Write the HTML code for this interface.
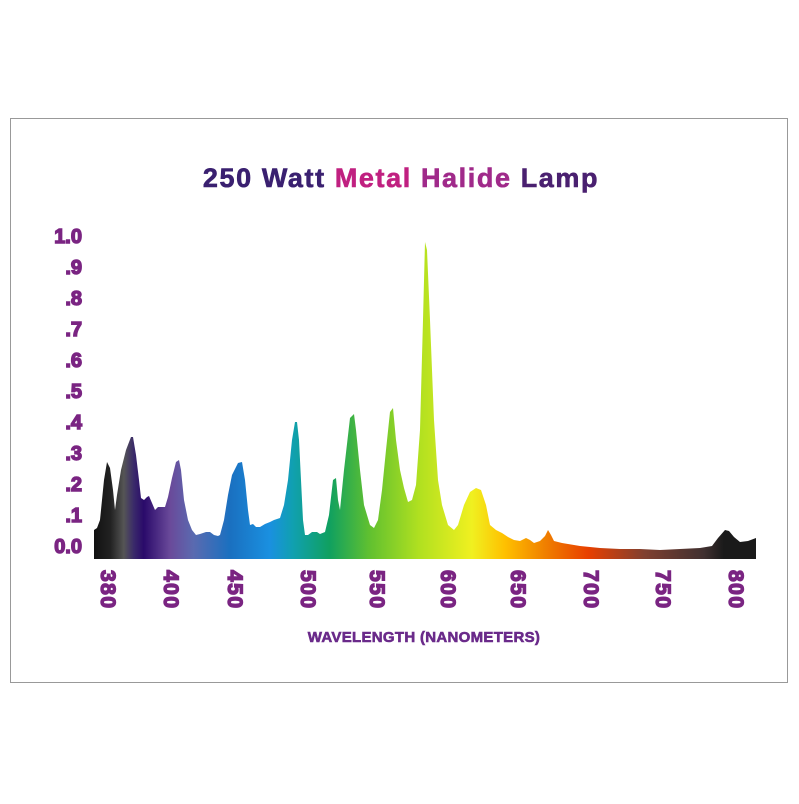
<!DOCTYPE html>
<html><head><style>
html,body{margin:0;padding:0;background:#fff;}
body{width:799px;height:799px;position:relative;overflow:hidden;font-family:"Liberation Sans",sans-serif;}
</style></head><body>
<svg width="799" height="799" viewBox="0 0 799 799" xmlns="http://www.w3.org/2000/svg">
<defs>
<linearGradient id="g" x1="94" y1="0" x2="757" y2="0" gradientUnits="userSpaceOnUse">
<stop offset="0" stop-color="#111"/>
<stop offset="0.025" stop-color="#222"/>
<stop offset="0.045" stop-color="#555"/>
<stop offset="0.06" stop-color="#3a2a6a"/>
<stop offset="0.075" stop-color="#2a0a6a"/>
<stop offset="0.115" stop-color="#6a4a9a"/>
<stop offset="0.15" stop-color="#5a6ab0"/>
<stop offset="0.205" stop-color="#1a70c0"/>
<stop offset="0.265" stop-color="#1a90e0"/>
<stop offset="0.30" stop-color="#10a0b0"/>
<stop offset="0.355" stop-color="#10a060"/>
<stop offset="0.415" stop-color="#60c030"/>
<stop offset="0.49" stop-color="#b0e020"/>
<stop offset="0.57" stop-color="#f0f020"/>
<stop offset="0.62" stop-color="#ffc000"/>
<stop offset="0.68" stop-color="#f08000"/>
<stop offset="0.745" stop-color="#e84000"/>
<stop offset="0.83" stop-color="#804030"/>
<stop offset="0.92" stop-color="#403030"/>
<stop offset="0.95" stop-color="#1a1a1a"/>
<stop offset="1" stop-color="#1a1a1a"/>
</linearGradient>
</defs>
<rect x="10.5" y="118.5" width="777" height="564" fill="#fff" stroke="#999" stroke-width="1"/>
<text x="401" y="187" text-anchor="middle" font-size="27" font-weight="bold" letter-spacing="1.6" stroke-width="0.6"><tspan fill="#3a2070" stroke="#3a2070">250 Watt </tspan><tspan fill="#c02080" stroke="#c02080">Metal </tspan><tspan fill="#a02a8a" stroke="#a02a8a">Halide </tspan><tspan fill="#4a2070" stroke="#4a2070">Lamp</tspan></text>
<path fill="url(#g)" d="M94,559 L94,530 L97,528 L100,520 L104,480 L107,462 L110,468 L113,490 L115,510 L117,495 L121,470 L126,450 L131,437 L133,437 L136,455 L139,480 L141,498 L144,500 L147,497 L149,496 L152,503 L155,510 L158,507 L165,507 L168,497 L172,478 L176,462 L179,460 L181,470 L184,500 L188,520 L192,530 L196,535 L200,534 L206,532 L210,532 L214,535 L218,536 L220,535 L224,520 L228,495 L232,475 L238,463 L242,462 L245,480 L248,510 L250,525 L253,524 L256,527 L260,527 L265,524 L270,522 L274,520 L280,518 L284,505 L288,480 L292,440 L295,422 L297,422 L299,440 L301,480 L303,520 L305,535 L308,535 L312,532 L317,532 L320,534 L325,532 L329,515 L333,480 L336,478 L338,500 L340,510 L344,470 L350,418 L354,414 L356,430 L360,470 L364,505 L370,525 L374,528 L378,520 L382,490 L386,450 L390,412 L393,408 L396,440 L400,470 L404,488 L408,502 L412,500 L416,485 L420,430 L423,320 L425,242 L427,250 L430,320 L434,420 L438,480 L442,505 L448,525 L454,530 L458,525 L464,505 L470,492 L476,488 L481,490 L486,505 L490,525 L496,530 L502,533 L508,537 L514,540 L520,541 L526,538 L530,540 L534,543 L540,541 L545,536 L548,530 L551,535 L554,541 L562,543 L580,546 L600,548 L620,549 L640,549 L660,550 L680,549 L700,548 L712,546 L718,538 L725,530 L729,531 L734,537 L740,542 L748,541 L756,538 L756,559 Z"/>
<g font-size="20" font-weight="bold" fill="#7a2482" stroke="#7a2482" stroke-width="1.4" text-anchor="end">
<text x="82" y="243">1.0</text><text x="82" y="274">.9</text><text x="82" y="305">.8</text><text x="82" y="336">.7</text><text x="82" y="367">.6</text><text x="82" y="398">.5</text><text x="82" y="429">.4</text><text x="82" y="460">.3</text><text x="82" y="491">.2</text><text x="82" y="522">.1</text><text x="82" y="553">0.0</text>
</g>
<g font-size="21" font-weight="bold" fill="#7a2482" stroke="#7a2482" stroke-width="1.4" letter-spacing="1.5">
<text transform="translate(101,570) rotate(90)">380</text>
<text transform="translate(164,570) rotate(90)">400</text>
<text transform="translate(228,570) rotate(90)">450</text>
<text transform="translate(301,570) rotate(90)">500</text>
<text transform="translate(370,570) rotate(90)">550</text>
<text transform="translate(441,570) rotate(90)">600</text>
<text transform="translate(511,570) rotate(90)">650</text>
<text transform="translate(584,570) rotate(90)">700</text>
<text transform="translate(656,570) rotate(90)">750</text>
<text transform="translate(729,570) rotate(90)">800</text>
</g>
<text x="424" y="642" text-anchor="middle" font-size="15" font-weight="bold" fill="#6a2a8a" stroke="#6a2a8a" stroke-width="0.6" letter-spacing="0.3">WAVELENGTH (NANOMETERS)</text>
</svg>
</body></html>
